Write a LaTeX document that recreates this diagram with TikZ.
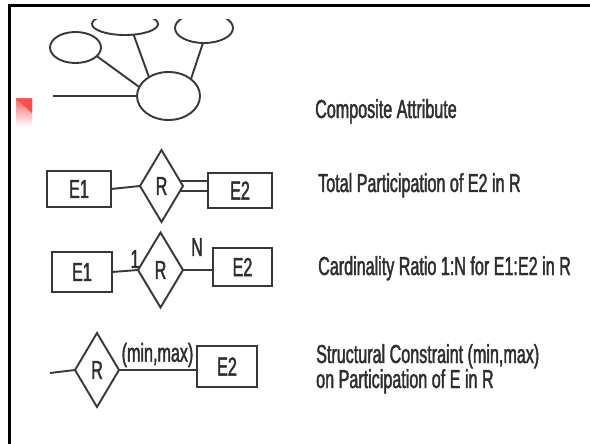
\documentclass[tikz,border=0pt]{standalone}
\usepackage{fontspec}
\usetikzlibrary{shapes.geometric}
\newfontfamily\narrowsans[FakeStretch=0.62,FakeBold=1.6]{Liberation Sans}
\begin{document}
\begin{tikzpicture}[x=1pt,y=-1pt,
  ink/.style={draw=black!78, line width=1.9pt},
  labelfont/.style={font=\narrowsans\fontsize{26}{26}\selectfont, text=black!82},
  ent/.style={ink, rectangle, inner sep=0pt, outer sep=0pt, labelfont},
  rel/.style={ink, diamond, inner sep=0pt, outer sep=0pt, labelfont},
  attr/.style={ink, ellipse, inner sep=0pt, outer sep=0pt},
  link/.style={ink},
  desc/.style={anchor=base west, inner sep=0pt, labelfont},
  card/.style={inner sep=0pt, labelfont}]

\useasboundingbox (0,0) rectangle (590,444);
\fill[white] (0,0) rectangle (590,444);

% frame
\draw[line width=3pt, black] (9,444) -- (9,6) -- (590,6);

% small red corner mark
\shade[top color=red!60, bottom color=white] (16,99) rectangle (32,127);
\fill[red!70] (16,99) -- (32,99) -- (32,113) -- cycle;

% composite attribute
\node[attr, minimum width=63pt, minimum height=48pt] (am) at (168.5,96) {};
\node[attr, minimum width=51pt, minimum height=31pt] (al) at (75.5,47.5) {};
\begin{scope}
  \clip (0,20) rectangle (590,444);
  \node[attr, minimum width=66pt, minimum height=22pt] (at) at (125,24) {};
  \node[attr, minimum width=58pt, minimum height=30pt] (ar) at (204,28) {};
\end{scope}
\coordinate (aend) at (53,96);
\draw[link] (aend) -- (am.west);
\draw[link] (al.-22) -- (am.163);
\draw[link] (at.-51) -- (am.136);
\draw[link] (ar.-94) -- (am.37);

% total participation
\node[ent, minimum width=64pt, minimum height=36pt] (e1a) at (79,189) {E1};
\node[rel, minimum width=43pt, minimum height=72pt] (ra) at (161.5,186) {R};
\node[ent, minimum width=64pt, minimum height=35pt] (e2a) at (240,190.5) {E2};
\draw[link] (e1a.east) -- (ra.west);
\draw[link] ([shift={(-3,-5)}]ra.east) -- ([shift={(0,-5)}]ra.east -| e2a.west);
\draw[link] ([shift={(-3,5)}]ra.east) -- ([shift={(0,5)}]ra.east -| e2a.west);

% cardinality ratio
\node[ent, minimum width=60pt, minimum height=40pt] (e1b) at (82,272) {E1};
\node[rel, minimum width=45pt, minimum height=75pt] (rb) at (160.5,270) {R};
\node[ent, minimum width=59pt, minimum height=38pt] (e2b) at (242.5,267) {E2};
\draw[link] (e1b.east) -- (rb.west);
\draw[link] (rb.east) -- (rb.east -| e2b.west);
\node[card] (one) at (135,259) {1};
\node[card] (many) at (197,247) {N};

% structural constraint
\coordinate (send) at (50,373);
\node[rel, minimum width=44pt, minimum height=74pt] (rc) at (97,370) {R};
\node[ent, minimum width=60pt, minimum height=41pt] (e2c) at (227,366.5) {E2};
\draw[link] (send) -- (rc.west);
\draw[link] (rc.east) -- (rc.east -| e2c.west);
\node[card] (mm) at (157.5,355) {(min,max)};

% descriptions
\node[desc] (d1) at (315,118) {Composite Attribute};
\node[desc] (d2) at (318,192) {Total Participation of E2 in R};
\node[desc] (d3) at (318,275) {Cardinality Ratio 1:N for E1:E2 in R};
\node[desc, text depth=0pt] (d4) at (316,363) {Structural Constraint (min,max)};
\node[desc, text height=19pt] (d5) at (316,388) {on Participation of E in R};
\end{tikzpicture}
\end{document}
